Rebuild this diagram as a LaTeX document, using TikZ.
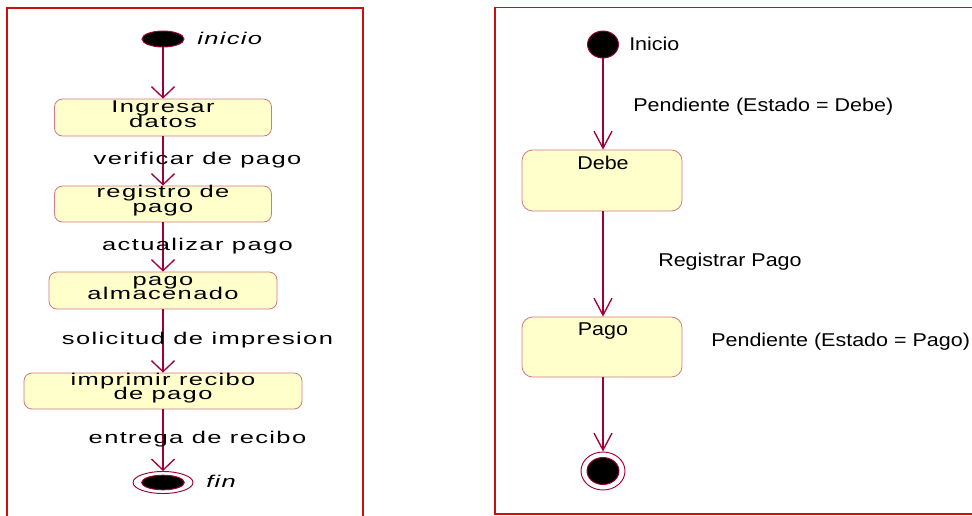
\documentclass[tikz,border=0pt]{standalone}
\usepackage{fontspec}
\setmainfont{Liberation Sans}
\newfontfamily\lfont[FakeStretch=1.5,LetterSpace=8]{Liberation Sans}
\newfontfamily\rfont[FakeStretch=1.16]{Liberation Sans}
\newcommand\lsfont{\lfont\fontsize{12.75pt}{11pt}\selectfont\lineskiplimit-20pt\relax}
\usetikzlibrary{arrows.meta,shapes.geometric}
\definecolor{framered}{RGB}{204,16,16}
\definecolor{conncol}{RGB}{160,0,58}
\definecolor{boxline}{RGB}{210,120,130}
\definecolor{boxfill}{RGB}{255,255,204}
\tikzset{
  frameline/.style={draw=framered,line width=1.2pt},
  lconn/.style={draw=conncol,line width=1pt,-{Straight Barb[length=8.25pt,width=17.25pt,line width=1pt]}},
  rconn/.style={draw=conncol,line width=1pt,-{Straight Barb[length=12.75pt,width=13.5pt,line width=1pt]}},
  actbox/.style={draw=boxline,fill=boxfill,rounded corners=6pt,line width=0.6pt,inner sep=0pt},
  ltext/.style={font=\lsfont,align=center,inner sep=0pt,text=black},
  litext/.style={font=\lfont\itshape\fontsize{12.75pt}{10.5pt}\selectfont,inner sep=0pt,text=black,anchor=west},
  rtext/.style={font=\rfont\fontsize{13.9pt}{16pt}\selectfont,inner sep=0pt,text=black},
  startdot/.style={ellipse,draw=conncol,fill=black,line width=0.7pt,inner sep=0pt},
  endring/.style={ellipse,draw=conncol,fill=white,line width=0.7pt,inner sep=0pt},
}
\begin{document}
\begin{tikzpicture}[x=0.75pt,y=-0.75pt]
\useasboundingbox (0,0) rectangle (972,515);
\begin{scope}
\clip (0,0) rectangle (972,515);
% frames
\draw[frameline] (7,520) -- (7,8) -- (363,8) -- (363,520);
\draw[frameline] (980,514) -- (495,514) -- (495,7.5) -- (980,7.5);

% ---------- left diagram ----------
\node[startdot,minimum width=31.5pt,minimum height=12pt] (li) at (163,39) {};
\node[litext] (linicio) at (197,38) {inicio};

\node[actbox,minimum width=162.75pt,minimum height=27.75pt] (b1) at (163,117.5) {};
\node[ltext] (t1) at (163,114.5) {Ingresar\\datos};

\node[actbox,minimum width=162.75pt,minimum height=27pt] (b2) at (163,204) {};
\node[ltext] (t2) at (163,200.5) {registro de\\pago};

\node[actbox,minimum width=171pt,minimum height=27.75pt] (b3) at (163,290.5) {};
\node[ltext] (t3) at (163,288) {pago\\almacenado};

\node[actbox,minimum width=208.5pt,minimum height=27pt] (b4) at (163,391) {};
\node[ltext] (t4) at (163,388) {imprimir recibo\\de pago};

\node[endring,minimum width=45pt,minimum height=16.5pt] (lf) at (163,482.5) {};
\node[startdot,minimum width=32pt,minimum height=11pt] (lfin) at (163,482.5) {};
\node[litext] (lfintxt) at (206,481) {fin};

\draw[lconn] (li) -- (b1);
\draw[lconn] (b1) -- (b2);
\draw[lconn] (b2) -- (b3);
\draw[lconn] (b3) -- (b4);
\draw[lconn] (b4) -- (lf);

\node[ltext] (l1) at (197.5,160) {verificar de pago};
\node[ltext] (l2) at (197.5,246) {actualizar pago};
\node[ltext] (l3) at (197.5,340) {solicitud de impresion};
\node[ltext] (l4) at (197.5,439) {entrega de recibo};

% ---------- right diagram ----------
\node[startdot,minimum width=23.25pt,minimum height=20.25pt] (ri) at (603,44.5) {};
\node[rtext,anchor=west] (rinicio) at (629,44) {Inicio};

\node[actbox,minimum width=120pt,minimum height=45.75pt,rounded corners=8pt] (rb1) at (602,180.5) {};
\node[rtext] (rt1) at (603,163) {Debe};

\node[actbox,minimum width=120pt,minimum height=45pt,rounded corners=8pt] (rb2) at (602,347) {};
\node[rtext] (rt2) at (603,331) {Pago};

\node[endring,minimum width=33pt,minimum height=28.5pt] (rf) at (603,471) {};
\node[startdot,minimum width=24pt,minimum height=20.25pt] (rfin) at (603,471) {};

\draw[rconn] (ri) -- (rb1.north -| ri);
\draw[rconn] (rb1.south -| ri) -- (rb2.north -| ri);
\draw[rconn] (rb2.south -| ri) -- (rf);

\node[rtext,anchor=west] (r1) at (633,107) {Pendiente (Estado = Debe)};
\node[rtext,anchor=west] (r2) at (658,262) {Registrar Pago};
\node[rtext,anchor=west] (r3) at (711,342) {Pendiente (Estado = Pago)};
\end{scope}
\end{tikzpicture}
\end{document}
